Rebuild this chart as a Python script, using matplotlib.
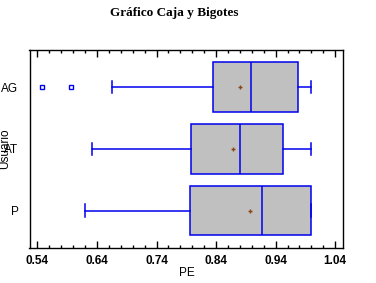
import matplotlib
matplotlib.use("Agg")
import matplotlib.pyplot as plt
from matplotlib.ticker import MultipleLocator

# box and whisker summary (bottom to top)
usuarios = ["P", "AT", "AG"]
minimos = [0.620, 0.631, 0.666]
q1 = [0.797, 0.798, 0.834]
medianas = [0.917, 0.881, 0.898]
q3 = [1.000, 0.952, 0.977]
maximos = [1.000, 1.000, 1.000]
medias = [0.897, 0.869, 0.881]
atipicos = [[], [], [0.548, 0.596]]

stats = []
for i in range(len(usuarios)):
    stats.append({"label": usuarios[i], "whislo": minimos[i], "q1": q1[i],
                  "med": medianas[i], "q3": q3[i], "whishi": maximos[i],
                  "mean": medias[i], "fliers": atipicos[i]})

plt.rcParams['font.family'] = ['Liberation Sans', 'DejaVu Sans']
fig = plt.figure(figsize=(3.76, 2.83), dpi=100)
ax = fig.add_axes([29.5 / 376, 1 - 247.7 / 283, (343.3 - 29.5) / 376, (247.7 - 50) / 283])

azul = "#0000ee"
ax.bxp(stats, positions=[1, 2, 3], vert=False, widths=0.8, capwidths=0.2,
       showmeans=True, patch_artist=True,
       boxprops=dict(facecolor="#c0c0c0", edgecolor=azul, linewidth=1.1),
       medianprops=dict(color=azul, linewidth=1.1),
       whiskerprops=dict(color=azul, linewidth=1.1),
       capprops=dict(color=azul, linewidth=1.1),
       meanprops=dict(marker="+", markeredgecolor="#8b4513", markersize=3.5, markeredgewidth=1),
       flierprops=dict(marker="s", markerfacecolor="none", markeredgecolor=azul,
                       markersize=3.2, markeredgewidth=1))

ax.set_xlim(0.5266, 1.0537)
ax.set_ylim(0.4, 3.6)
ax.xaxis.set_minor_locator(MultipleLocator(0.02))
ax.set_xticks([0.54, 0.64, 0.74, 0.84, 0.94, 1.04])
ax.set_xticklabels(["0.54", "0.64", "0.74", "0.84", "0.94", "1.04"], fontweight="bold")
ax.tick_params(axis="x", which="major", direction="in", length=5, top=True,
               labelsize=8.5, pad=5, width=1)
ax.tick_params(axis="x", which="minor", direction="in", length=2.5, top=True, width=1)
ax.tick_params(axis="y", length=0, labelsize=8.5, pad=8)
for s in ax.spines.values():
    s.set_linewidth(1)

ax.set_xlabel("PE", fontsize=8.5, labelpad=0)
ax.set_ylabel("Usuario", fontsize=8.5)
ax.yaxis.set_label_coords(-0.058, 0.5)

fig.text(174 / 376, 1 - 13 / 283, "Gráfico Caja y Bigotes", ha="center", va="center",
         fontsize=9.5, fontweight="bold", family="Liberation Serif")

fig.savefig("out.png", dpi=100)
